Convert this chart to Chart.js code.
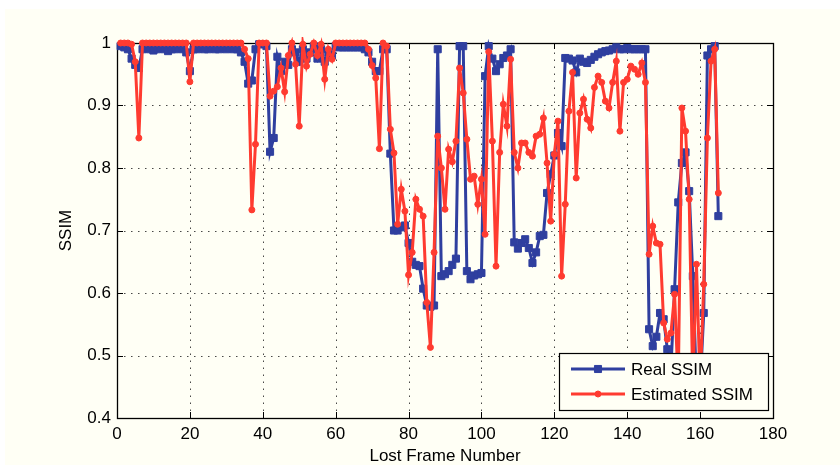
<!DOCTYPE html>
<html><head><meta charset="utf-8">
<script src="https://cdn.jsdelivr.net/npm/chart.js@4.4.0/dist/chart.umd.min.js"></script>
<style>
html,body{margin:0;padding:0;background:#fff;overflow:hidden;}
canvas{display:block;}
</style></head><body>
<canvas id="c" width="840" height="465"></canvas>
<script>
// ---- data ----
const frames = [
  1,2,3,4,5,6,7,8,9,10,11,12,13,14,15,16,17,18,19,20,
  21,22,23,24,25,26,27,28,29,30,31,32,33,34,35,36,37,38,39,40,
  41,42,43,44,45,46,47,48,49,50,51,52,53,54,55,56,57,58,59,60,
  61,62,63,64,65,66,67,68,69,70,71,72,73,74,75,76,77,78,79,80,
  81,82,83,84,85,86,87,88,89,90,91,92,93,94,95,96,97,98,99,100,
  101,102,103,104,105,106,107,108,109,110,111,112,113,114,115,116,117,118,119,120,
  121,122,123,124,125,126,127,128,129,130,131,132,133,134,135,136,137,138,139,140,
  141,142,143,144,145,146,147,148,149,150,151,152,153,154,155,156,157,158,159,160,
  161,162,163,164,165
];
const realSSIM = [
  0.995,0.993,0.99,0.975,0.965,0.96,0.99,0.992,0.99,0.988,
  0.99,0.992,0.99,0.987,0.99,0.99,0.992,0.99,0.985,0.955,
  0.99,0.99,0.993,0.99,0.99,0.992,0.99,0.99,0.993,0.99,
  0.992,0.99,0.99,0.985,0.97,0.935,0.94,0.99,0.998,0.998,
  0.995,0.826,0.848,0.978,0.955,0.97,0.965,0.99,0.985,0.97,
  0.99,0.975,0.985,0.995,0.975,0.99,0.97,0.985,0.98,0.995,
  0.993,0.993,0.993,0.993,0.993,0.993,0.993,0.99,0.985,0.97,
  0.955,0.955,0.99,0.99,0.823,0.70,0.70,0.705,0.708,0.68,
  0.65,0.645,0.643,0.607,0.58,0.578,0.58,0.99,0.627,0.63,
  0.635,0.645,0.655,0.995,0.995,0.635,0.622,0.628,0.63,0.632,
  0.947,0.995,0.975,0.955,0.966,0.976,0.98,0.99,0.681,0.671,
  0.68,0.686,0.672,0.648,0.665,0.691,0.693,0.76,0.79,0.82,
  0.856,0.835,0.976,0.975,0.972,0.953,0.975,0.97,0.968,0.973,
  0.978,0.982,0.985,0.987,0.988,0.99,0.993,0.99,0.99,0.992,
  0.99,0.99,0.99,0.99,0.99,0.542,0.515,0.53,0.568,0.558,
  0.51,0.48,0.606,0.745,0.808,0.825,0.763,0.627,0.45,0.45,
  0.568,0.98,0.99,0.995,0.723
];
const estimatedSSIM = [
  1.0,1.0,1.0,0.998,0.97,0.848,1.0,1.0,1.0,1.0,
  1.0,1.0,1.0,1.0,1.0,1.0,1.0,1.0,1.0,0.938,
  1.0,1.0,1.0,1.0,1.0,1.0,1.0,1.0,1.0,1.0,
  1.0,1.0,1.0,1.0,0.99,0.975,0.733,0.838,1.0,1.0,
  1.0,0.915,0.923,0.93,0.96,0.922,0.98,1.0,0.966,0.867,
  0.998,0.963,0.982,1.0,0.98,0.998,0.942,0.99,0.974,1.0,
  1.0,1.0,1.0,1.0,1.0,1.0,1.0,1.0,0.99,0.964,
  0.944,0.831,1.0,0.995,0.862,0.824,0.71,0.766,0.731,0.629,
  0.665,0.75,0.734,0.723,0.585,0.513,0.665,0.851,0.80,0.734,
  0.83,0.81,0.843,0.96,0.92,0.846,0.782,0.787,0.742,0.782,
  0.694,0.986,0.843,0.643,0.825,0.902,0.867,0.974,0.825,0.80,
  0.84,0.84,0.825,0.819,0.851,0.854,0.88,0.808,0.715,0.822,
  0.875,0.627,0.742,0.891,0.953,0.784,0.888,0.91,0.878,0.864,
  0.929,0.947,0.937,0.907,0.896,0.937,0.971,0.859,0.937,0.942,
  0.963,0.958,0.95,0.968,0.937,0.662,0.707,0.68,0.678,0.552,
  0.526,0.536,0.598,0.45,0.896,0.859,0.75,0.45,0.646,0.45,
  0.614,0.848,0.971,0.99,0.76
];
const xTicks = [0,20,40,60,80,100,120,140,160,180];
const yTicks = [0.4,0.5,0.6,0.7,0.8,0.9,1];
const seriesNames = ['Real SSIM','Estimated SSIM'];

// ---- styles ----
const BLUE = '#2f3f9f';
const RED = '#ff3b30';
const BG = '#fffff5';
const FONT = {family: '"Liberation Sans", Arial, Helvetica, sans-serif', size: 17};

const framePlugin = {
  id: 'matlabFrame',
  beforeDraw(chart) {
    const c = chart.ctx;
    c.save();
    c.fillStyle = '#ffffff';
    c.fillRect(0, 0, chart.width, chart.height);
    c.fillStyle = BG;
    c.fillRect(5, 9, chart.width - 5, chart.height - 9);
    c.restore();
  },
  beforeDatasetsDraw(chart) {
    const c = chart.ctx, a = chart.chartArea;
    const xs = chart.scales.x, ys = chart.scales.y;
    c.save();
    // dotted grid
    c.strokeStyle = 'rgba(40,40,40,0.85)';
    c.lineWidth = 1;
    c.setLineDash([1.5, 5.5]);
    xTicks.forEach(v => {
      if (v === xs.min || v === xs.max) return;
      const px = Math.round(xs.getPixelForValue(v)) + 0.5;
      c.beginPath(); c.moveTo(px, a.bottom); c.lineTo(px, a.top); c.stroke();
    });
    yTicks.forEach(v => {
      if (Math.abs(v - ys.min) < 1e-9 || Math.abs(v - ys.max) < 1e-9) return;
      const py = Math.round(ys.getPixelForValue(v)) + 0.5;
      c.beginPath(); c.moveTo(a.left, py); c.lineTo(a.right, py); c.stroke();
    });
    c.setLineDash([]);
    // inner ticks
    c.strokeStyle = '#000';
    const tl = 6;
    xTicks.forEach(v => {
      const px = Math.round(xs.getPixelForValue(v)) + 0.5;
      c.beginPath(); c.moveTo(px, a.bottom); c.lineTo(px, a.bottom - tl);
      c.moveTo(px, a.top); c.lineTo(px, a.top + tl); c.stroke();
    });
    yTicks.forEach(v => {
      const py = Math.round(ys.getPixelForValue(v)) + 0.5;
      c.beginPath(); c.moveTo(a.left, py); c.lineTo(a.left + tl, py);
      c.moveTo(a.right, py); c.lineTo(a.right - tl, py); c.stroke();
    });
    // box
    c.lineWidth = 1.3;
    c.strokeRect(Math.round(a.left) + 0.5, Math.round(a.top) + 0.5,
                 Math.round(a.right - a.left), Math.round(a.bottom - a.top));
    c.restore();
  },
  afterDatasetsDraw(chart) {
    const c = chart.ctx;
    const bx = 559, by = 353, bw = 209, bh = 57;
    c.save();
    c.fillStyle = BG;
    c.fillRect(bx, by, bw, bh);
    c.strokeStyle = '#000';
    c.lineWidth = 1.2;
    c.strokeRect(bx + 0.5, by + 0.5, bw, bh);
    const rows = [
      {y: 369, color: BLUE, style: 'rect', r: 5, label: seriesNames[0]},
      {y: 394, color: RED, style: 'circle', r: 3, label: seriesNames[1]}
    ];
    rows.forEach(rw => {
      c.strokeStyle = rw.color; c.fillStyle = rw.color; c.lineWidth = 3;
      c.beginPath(); c.moveTo(571, rw.y); c.lineTo(625, rw.y); c.stroke();
      c.lineWidth = 1;
      Chart.helpers.drawPoint(c, {pointStyle: rw.style, radius: rw.r, borderWidth: 1, rotation: 0}, 598, rw.y);
      c.fillStyle = '#000';
      c.font = FONT.size + 'px ' + FONT.family;
      c.textAlign = 'left'; c.textBaseline = 'middle';
      c.fillText(rw.label, 631, rw.y + 1);
    });
    c.restore();
  }
};

new Chart(document.getElementById('c'), {
  type: 'line',
  data: {
    datasets: [
      {
        label: seriesNames[0],
        data: frames.map((f, i) => ({x: f, y: realSSIM[i]})),
        borderColor: BLUE, backgroundColor: BLUE,
        borderWidth: 3, pointStyle: 'rect', pointRadius: 5, pointBorderWidth: 1,
        pointBackgroundColor: BLUE, pointBorderColor: BLUE,
        tension: 0, order: 2, clip: 6
      },
      {
        label: seriesNames[1],
        data: frames.map((f, i) => ({x: f, y: estimatedSSIM[i]})),
        borderColor: RED, backgroundColor: RED,
        borderWidth: 3, pointStyle: 'circle', pointRadius: 3, pointBorderWidth: 1,
        pointBackgroundColor: RED, pointBorderColor: RED,
        tension: 0, order: 1, clip: 6
      }
    ]
  },
  options: {
    responsive: false, animation: false, devicePixelRatio: 1,
    layout: {padding: {left: 0, right: 67, top: 43, bottom: 0}},
    plugins: {legend: {display: false}, tooltip: {enabled: false}},
    scales: {
      x: {
        type: 'linear', min: 0, max: 180,
        afterBuildTicks: s => { s.ticks = xTicks.map(v => ({value: v})); },
        ticks: {font: FONT, color: '#000', padding: 6.5, maxRotation: 0, autoSkip: false,
                callback: v => String(v)},
        grid: {display: false, drawTicks: false},
        border: {display: false},
        title: {display: true, text: 'Lost Frame Number', font: {...FONT, lineHeight: 1}, color: '#000',
                padding: {top: 0, bottom: 0.5}},
        afterFit: s => { s.height = 47; }
      },
      y: {
        type: 'linear', min: 0.4, max: 1,
        afterBuildTicks: s => { s.ticks = yTicks.map(v => ({value: v})); },
        ticks: {font: FONT, color: '#000', padding: 6, autoSkip: false,
                callback: v => (v === 1 ? '1' : v.toFixed(1))},
        grid: {display: false, drawTicks: false},
        border: {display: false},
        title: {display: true, text: 'SSIM', font: FONT, color: '#000', padding: {top: 56, bottom: 0}},
        afterFit: s => { s.width = 117; }
      }
    }
  },
  plugins: [framePlugin]
});
</script>
</body></html>
